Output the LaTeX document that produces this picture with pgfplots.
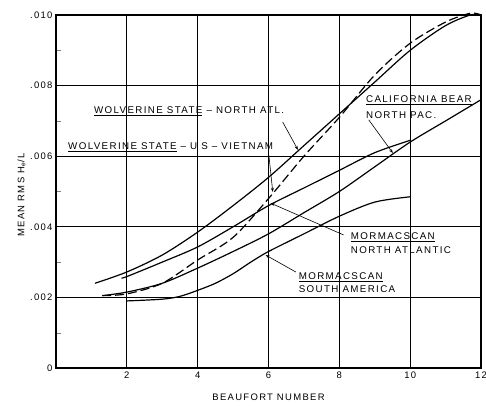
\documentclass[border=0pt]{standalone}
\usepackage{pgfplots}
\pgfplotsset{compat=1.18}
\usepackage{fontspec}
\setmainfont{Liberation Sans}
\newfontfamily\lab[LetterSpace=14]{Liberation Sans}
\usetikzlibrary{arrows.meta}
\begin{document}
\begin{tikzpicture}[x=1bp,y=1bp]
\useasboundingbox (0,0) rectangle (486,405);
\begin{axis}[at={(56bp,37bp)}, anchor=south west, scale only axis,
  width=425bp, height=353bp,
  xmin=0, xmax=12, ymin=0, ymax=0.010,
  xtick={2,4,6,8,10,12}, xticklabels={2,4,6,8,10,12},
  ytick={0,0.002,0.004,0.006,0.008,0.010},
  yticklabels={0,.002,.004,.006,.008,.010},
  minor ytick={0.001,0.003,0.005,0.007,0.009},
  scaled y ticks=false,
  xtick pos=bottom, ytick pos=left,
  tick align=inside,
  major tick length=0pt, minor tick length=5bp,
  grid=major,
  major grid style={black, line width=0.8bp},
  axis line style={line width=1.2bp},
  tick label style={font=\lab\fontsize{9.5}{11}\selectfont},
  /pgf/number format/assume math mode=true,
  xlabel={\lab\fontsize{9.5}{11}\selectfont BEAUFORT NUMBER},
  ylabel={\lab\fontsize{9.5}{11}\selectfont MEAN RMS H\textsubscript{e}/L},
  xlabel style={at={(axis description cs:0.5,0)}, anchor=north, yshift=-22bp},
  ylabel style={at={(axis description cs:0,0.49)}, anchor=south, yshift=27bp},
  clip=false,
]
% Wolverine State - North Atl.
\addplot[black, line width=1.2bp, smooth] coordinates {
(1.1,0.0024)(2,0.00272)(3,0.0032)(4,0.00385)(5,0.0046)(6,0.0054)(7,0.0063)(8,0.0072)(9,0.0081)(10,0.0090)(11,0.0097)(11.7,0.0100)(12,0.0100)};
% Wolverine State - US - Vietnam (dashed)
\addplot[black, line width=1.2bp, smooth, dash pattern=on 9bp off 4bp] coordinates {
(1.3,0.00205)(2,0.0021)(3,0.0024)(4,0.00306)(5,0.0037)(6,0.0048)(7,0.0060)(8,0.0071)(9,0.0083)(10,0.0092)(11,0.0098)(11.7,0.01005)(12,0.0100)};
% California Bear - North Pac.
\addplot[black, line width=1.2bp, smooth] coordinates {
(1.3,0.00205)(2,0.00215)(3,0.0024)(4,0.00283)(5,0.0033)(6,0.0038)(7,0.0044)(8,0.0050)(9,0.0057)(10,0.0064)(11,0.0070)(12,0.0076)};
% Mormacscan North Atlantic
\addplot[black, line width=1.2bp, smooth] coordinates {
(1.85,0.00255)(2,0.00259)(3,0.0030)(4,0.00343)(5,0.0040)(6,0.0046)(7,0.0051)(8,0.0056)(9,0.0061)(10,0.00645)};
% Mormacscan South America
\addplot[black, line width=1.2bp, smooth] coordinates {
(2,0.0019)(3,0.00195)(3.5,0.00203)(4,0.0022)(4.5,0.0024)(5,0.00267)(5.5,0.0030)(6,0.0033)(7,0.0038)(8,0.0043)(9,0.0047)(10,0.00485)};

\def\lf{\lab\fontsize{9.8}{11}\selectfont}
\node[anchor=west, inner sep=0] at (axis cs:1.07,0.00728) {\lf\underline{WOLVERINE STATE} – NORTH ATL.};
\node[anchor=west, inner sep=0] at (axis cs:0.34,0.00626) {\lf\underline{WOLVERINE STATE} – U S – VIETNAM};
\node[anchor=west, inner sep=0] at (axis cs:8.75,0.00759) {\lf\underline{CALIFORNIA BEAR}};
\node[anchor=west, inner sep=0] at (axis cs:8.75,0.00717) {\lf NORTH PAC.};
\node[anchor=west, inner sep=0] at (axis cs:8.32,0.00371) {\lf\underline{MORMACSCAN}};
\node[anchor=west, inner sep=0] at (axis cs:8.32,0.00334) {\lf NORTH ATLANTIC};
\node[anchor=west, inner sep=0] at (axis cs:6.85,0.00258) {\lf\underline{MORMACSCAN}};
\node[anchor=west, inner sep=0] at (axis cs:6.85,0.00224) {\lf SOUTH AMERICA};

\draw[-{Stealth[length=4bp,width=3bp]}, line width=0.6bp] (axis cs:6.40,0.00697) -- (axis cs:6.83,0.00618);
\draw[-{Stealth[length=4bp,width=3bp]}, line width=0.6bp] (axis cs:6.01,0.00603) -- (axis cs:6.12,0.00499);
\draw[-{Stealth[length=4bp,width=3bp]}, line width=0.6bp] (axis cs:8.83,0.00703) -- (axis cs:9.51,0.00609);
\draw[-{Stealth[length=4bp,width=3bp]}, line width=0.6bp] (axis cs:8.12,0.00377) -- (axis cs:6.06,0.00467);
\draw[-{Stealth[length=4bp,width=3bp]}, line width=0.6bp] (axis cs:6.77,0.00272) -- (axis cs:5.92,0.00320);
\end{axis}
\end{tikzpicture}
\end{document}
